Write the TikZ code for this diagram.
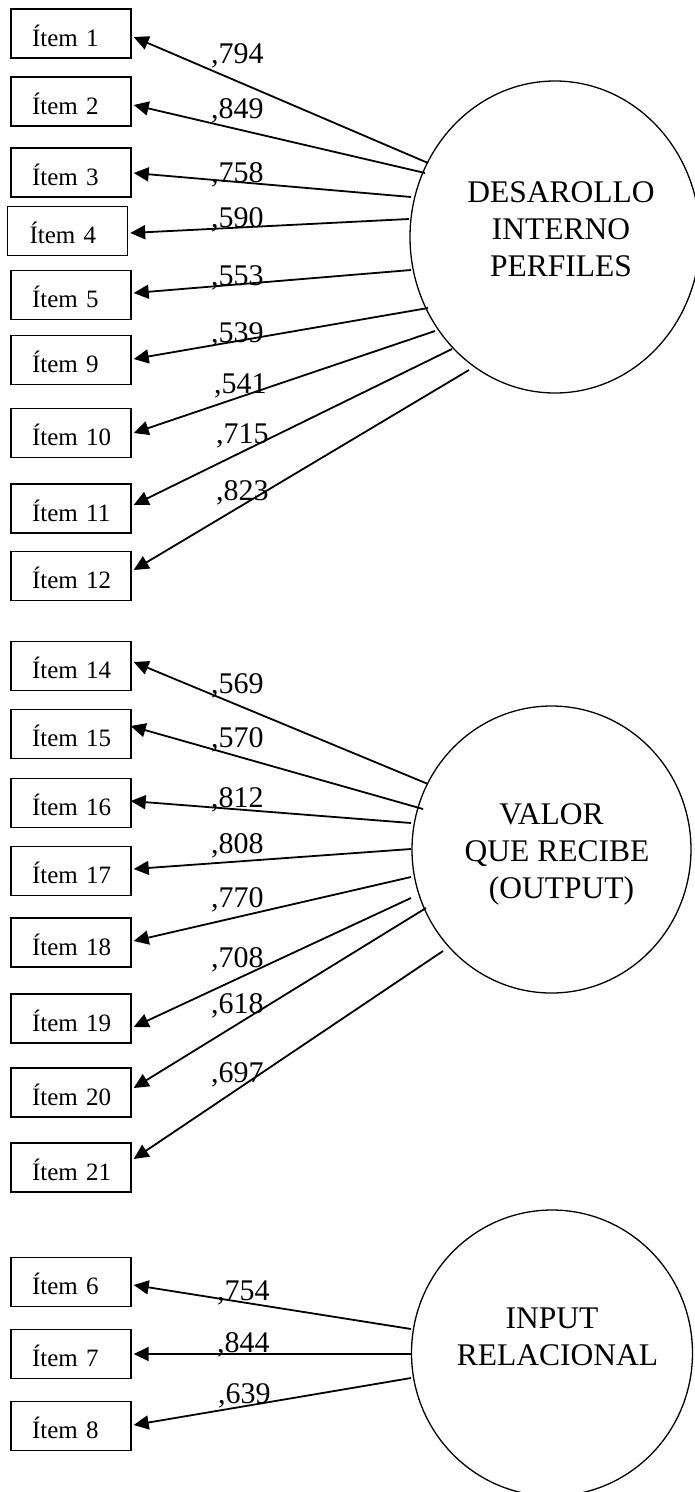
\documentclass[tikz,border=0pt]{standalone}
\usepackage{fontspec}
\setmainfont{Liberation Serif}
\usetikzlibrary{arrows.meta,shapes.geometric,calc}
\begin{document}
\begin{tikzpicture}[x=1pt,y=-1pt,
  itembox/.style={draw, line width=1.4pt, minimum height=49pt, text width=120pt,
    inner xsep=0pt, inner ysep=0pt, align=left, text height=25pt, text depth=0pt,
    font=\fontsize{25}{30}\selectfont},
  lab/.style={anchor=base west, inner sep=0pt, font=\fontsize{30}{36}\selectfont},
  latent/.style={draw, ellipse, line width=1.3pt, inner sep=0pt},
  lattext/.style={align=center, inner sep=0pt, font=\fontsize{31.5}{37}\selectfont},
  arr/.style={line width=1.8pt, -{Triangle[length=15pt,width=14pt]}}]
\useasboundingbox (0,0) rectangle (694,1492);

% latent variables
\node[latent, minimum width=290pt, minimum height=312pt] (f1) at (555,237) {};
\node[latent, minimum width=279pt, minimum height=287pt] (f2) at (551.5,849.5) {};
\node[latent, minimum width=281pt, minimum height=286pt] (f3) at (552,1353) {};
\node[lattext] (t1) at (561,229) {DESAROLLO\\INTERNO\\PERFILES};
\node[lattext] (t2) at (557,854) {VALOR\hspace*{11pt}\\QUE RECIBE\\\hspace*{9pt}(OUTPUT)};
\node[lattext] (t3) at (557.5,1337) {INPUT\hspace*{11pt}\\RELACIONAL};

% items
\foreach \n/\y in {1/33.5, 2/101.5, 3/172.5, 5/295, 9/360, 10/433, 11/508.5, 12/576,
  14/666, 15/734, 16/803, 17/871, 18/942.5, 19/1018.5, 20/1092.5, 21/1167.5,
  6/1282, 7/1354, 8/1426}
  \node[itembox] (i\n) at (71,\y) {\hspace*{21pt}Ítem \n};
\node[itembox] (i4) at (67.5,231) {\hspace*{22pt}Ítem 4};

% start points on the latent circles
\coordinate (s1) at (428,163);
\coordinate (s2) at (425,173);
\coordinate (s3) at (411,197);
\coordinate (s4) at (409,219);
\coordinate (s5) at (411,270);
\coordinate (s9) at (428,308);
\coordinate (s10) at (435,331);
\coordinate (s11) at (452,349);
\coordinate (s12) at (469,370);
\coordinate (s14) at (428,784);
\coordinate (s15) at (423,809);
\coordinate (s16) at (411,823);
\coordinate (s17) at (411,849);
\coordinate (s18) at (411,877);
\coordinate (s19) at (411,898);
\coordinate (s20) at (426,908);
\coordinate (s21) at (443,951);
\coordinate (s6) at (411,1329);
\coordinate (s7) at (411,1354);
\coordinate (s8) at (411,1378);

% connectors
\draw[arr] (s1) -- ($(i1.east)+(2,3.5)$);
\draw[arr] (s2) -- ($(i2.east)+(2,3.5)$);
\draw[arr] (s3) -- ($(i3.east)+(2,0.5)$);
\draw[arr] (s4) -- ($(i4.east)+(2,2)$);
\draw[arr] (s5) -- ($(i5.east)+(2,-2)$);
\draw[arr] (s9) -- ($(i9.east)+(2,-1)$);
\draw[arr] (s10) -- ($(i10.east)+(2,0)$);
\draw[arr] (s11) -- ($(i11.east)+(2,-3.5)$);
\draw[arr] (s12) -- ($(i12.east)+(2,-6)$);
\draw[arr] (s14) -- ($(i14.east)+(2,-4)$);
\draw[arr] (s15) -- ($(i15.east)+(-1,-8)$);
\draw[arr] (s16) -- ($(i16.east)+(-1,-2)$);
\draw[arr] (s17) -- ($(i17.east)+(2,-2)$);
\draw[arr] (s18) -- ($(i18.east)+(2,-1.5)$);
\draw[arr] (s19) -- ($(i19.east)+(2,8.5)$);
\draw[arr] (s20) -- ($(i20.east)+(2,-4.5)$);
\draw[arr] (s21) -- ($(i21.east)+(2,-8.5)$);
\draw[arr] (s6) -- ($(i6.east)+(2,3)$);
\draw[arr] (s7) -- ($(i7.east)+(2,0)$);
\draw[arr] (s8) -- ($(i8.east)+(2,-1)$);

% loadings
\node[lab] (l1) at (211,63) {,794};
\node[lab] (l2) at (211,118) {,849};
\node[lab] (l3) at (211,182) {,758};
\node[lab] (l4) at (211,227) {,590};
\node[lab] (l5) at (211,285) {,553};
\node[lab] (l9) at (211,342) {,539};
\node[lab] (l10) at (214,393) {,541};
\node[lab] (l11) at (216,443) {,715};
\node[lab] (l12) at (216,500) {,823};
\node[lab] (l14) at (211,693) {,569};
\node[lab] (l15) at (211,747) {,570};
\node[lab] (l16) at (211,807) {,812};
\node[lab] (l17) at (211,853) {,808};
\node[lab] (l18) at (211,907) {,770};
\node[lab] (l19) at (211,967) {,708};
\node[lab] (l20) at (211,1013) {,618};
\node[lab] (l21) at (211,1082) {,697};
\node[lab] (l6) at (217,1300) {,754};
\node[lab] (l7) at (217,1352) {,844};
\node[lab] (l8) at (218,1403) {,639};
\end{tikzpicture}
\end{document}
